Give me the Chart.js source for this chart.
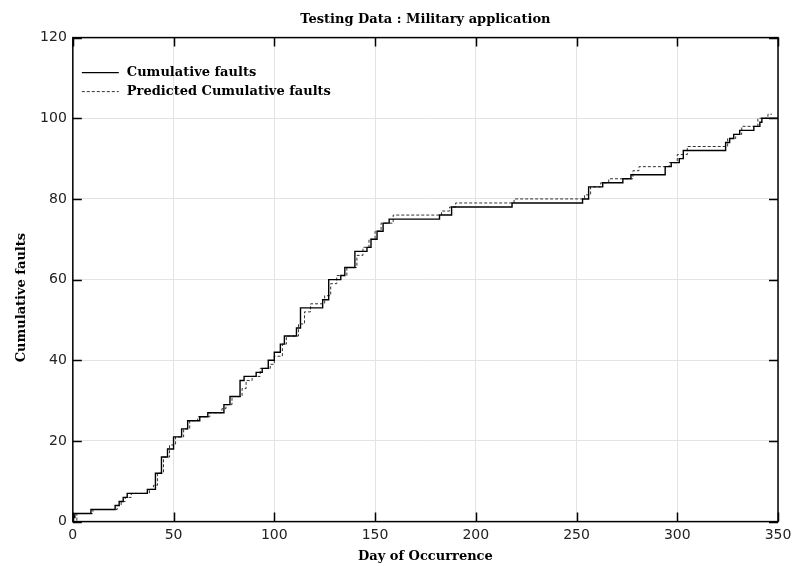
<!DOCTYPE html>
<html lang="en">

<head>
    <meta charset="utf-8">
    <title>Testing Data : Military application</title>
    <script src="https://cdn.jsdelivr.net/npm/chart.js"></script>
    <style>
        body { margin: 0; background: #fff; }
        .grafico { width: 792px; height: 566px; }
    </style>
</head>

<body>

    <div class="grafico">
        <canvas id="faultChart"></canvas>
    </div>

    <script>
        // observed faults: day of the step and cumulative count after it
        const faultDays = [0, 1, 9, 21, 23, 25, 27, 37, 41, 44, 47, 50, 54, 57, 63, 67, 75, 78, 83, 85,
            91, 94, 97, 100, 103, 105, 111, 113, 124, 127, 133, 135, 140, 146, 148, 151, 154, 157, 182, 188,
            218, 253, 256, 263, 273, 277, 294, 297, 301, 303, 324, 326, 328, 331, 338, 341, 342, 350];
        const cumFaults = [1, 2, 3, 4, 5, 6, 7, 8, 12, 16, 18, 21, 23, 25, 26, 27, 29, 31, 35, 36,
            37, 38, 40, 42, 44, 46, 48, 53, 55, 60, 61, 63, 67, 68, 70, 72, 74, 75, 76, 78,
            79, 80, 83, 84, 85, 86, 88, 89, 90, 92, 94, 95, 96, 97, 98, 99, 100, 100];

        // model prediction
        const predDays = [0, 2, 10, 22, 24, 26, 29, 38, 40, 42, 45, 48, 51, 55, 58, 62, 68, 74, 76, 79,
            84, 86, 89, 93, 98, 100, 104, 106, 112, 115, 118, 125, 128, 131, 136, 141, 144, 147, 150, 153,
            159, 183, 187, 190, 219, 254, 257, 262, 266, 278, 281, 296, 300, 305, 325, 329, 332, 340, 345, 347];
        const predFaults = [0, 2, 3, 4, 5, 6, 7, 8, 9, 12, 16, 19, 21, 23, 25, 26, 27, 28, 29, 31,
            33, 35, 36, 38, 39, 41, 44, 46, 49, 52, 54, 56, 59, 61, 63, 66, 68, 70, 72, 74,
            76, 77, 78, 79, 80, 81, 83, 84, 85, 87, 88, 89, 91, 93, 95, 96, 98, 100, 101, 101];

        const xTicks = [0, 50, 100, 150, 200, 250, 300, 350];
        const yTicks = [0, 20, 40, 60, 80, 100, 120];
        const yTitle = 'Cumulative faults';

        const serifBold = { family: "'DejaVu Serif', 'Liberation Serif', serif", size: 13, weight: 'bold' };
        const tickFont = { family: "'DejaVu Sans', sans-serif", size: 14 };

        // box round the plot, inward tick marks on all sides, the key in the top left corner
        // and the y title (drawn a bit below the middle of the axis)
        const frameAndKey = {
            id: 'frameAndKey',
            afterDatasetsDraw(chart) {
                const { ctx, chartArea: a, scales: { x, y } } = chart;
                ctx.save();
                ctx.strokeStyle = '#000';
                ctx.lineWidth = 1.5;
                ctx.strokeRect(a.left, a.top, a.width, a.height);

                ctx.beginPath();
                x.ticks.forEach(t => {
                    const px = Math.round(x.getPixelForValue(t.value)) + 0.5;
                    ctx.moveTo(px, a.bottom); ctx.lineTo(px, a.bottom - 9);
                    ctx.moveTo(px, a.top); ctx.lineTo(px, a.top + 9);
                });
                y.ticks.forEach(t => {
                    const py = Math.round(y.getPixelForValue(t.value)) + 0.5;
                    ctx.moveTo(a.left, py); ctx.lineTo(a.left + 9, py);
                    ctx.moveTo(a.right, py); ctx.lineTo(a.right - 9, py);
                });
                ctx.stroke();

                ctx.font = 'bold 13px ' + serifBold.family;
                ctx.textBaseline = 'middle';
                ctx.fillStyle = '#000';

                // key
                chart.data.datasets.forEach((ds, i) => {
                    const ly = a.top + 35 + i * 19;
                    ctx.beginPath();
                    ctx.strokeStyle = ds.borderColor;
                    ctx.lineWidth = ds.borderWidth;
                    ctx.setLineDash(ds.borderDash || []);
                    ctx.moveTo(a.left + 9, ly);
                    ctx.lineTo(a.left + 46, ly);
                    ctx.stroke();
                    ctx.setLineDash([]);
                    ctx.fillText(ds.label, a.left + 54, ly);
                });

                // y title
                ctx.translate(y.left + 8, (a.top + a.bottom) / 2 + 18);
                ctx.rotate(-Math.PI / 2);
                ctx.textAlign = 'center';
                ctx.fillText(yTitle, 0, 0);
                ctx.restore();
            }
        };

        const data = {
            datasets: [{
                label: 'Cumulative faults',
                data: faultDays.map((d, i) => ({ x: d, y: cumFaults[i] })),
                stepped: true,
                borderColor: '#000',
                borderWidth: 1.4,
                pointRadius: 0,
                fill: false
            }, {
                label: 'Predicted Cumulative faults',
                data: predDays.map((d, i) => ({ x: d, y: predFaults[i] })),
                stepped: true,
                borderColor: '#333',
                borderWidth: 1,
                borderDash: [3, 2],
                pointRadius: 0,
                fill: false
            }]
        };

        const config = {
            type: 'line',
            data: data,
            options: {
                responsive: true,
                maintainAspectRatio: false,
                animation: false,
                layout: { padding: { left: 13.5, right: 14, top: 2, bottom: 2 } },
                plugins: {
                    legend: { display: false },
                    tooltip: { enabled: false },
                    title: {
                        display: true,
                        fullSize: false,
                        text: 'Testing Data : Military application',
                        color: '#000',
                        font: serifBold,
                        padding: { top: 10, bottom: 10 }
                    }
                },
                scales: {
                    x: {
                        type: 'linear',
                        min: 0,
                        max: 350,
                        afterBuildTicks: s => { s.ticks = xTicks.map(v => ({ value: v })); },
                        // let the last label run into the page margin
                        afterFit: s => { s.paddingRight = 0; },
                        grid: { color: '#e3e3e3', lineWidth: 1, drawTicks: false },
                        border: { display: false },
                        ticks: { color: '#222', padding: 5, maxRotation: 0, font: tickFont },
                        title: { display: true, text: 'Day of Occurrence', color: '#000', font: serifBold, padding: { top: 0, bottom: 0 } }
                    },
                    y: {
                        min: 0,
                        max: 120,
                        afterBuildTicks: s => { s.ticks = yTicks.map(v => ({ value: v })); },
                        grid: { color: '#e3e3e3', lineWidth: 1, drawTicks: false },
                        border: { display: false },
                        ticks: { color: '#222', padding: 6, font: tickFont },
                        // space is kept here, the text itself is drawn by frameAndKey
                        title: { display: true, text: yTitle, color: 'rgba(0,0,0,0)', font: serifBold, padding: { top: 0, bottom: 5 } }
                    }
                }
            },
            plugins: [frameAndKey]
        };

        const faultChart = new Chart(document.getElementById('faultChart'), config);
    </script>

</body>

</html>
